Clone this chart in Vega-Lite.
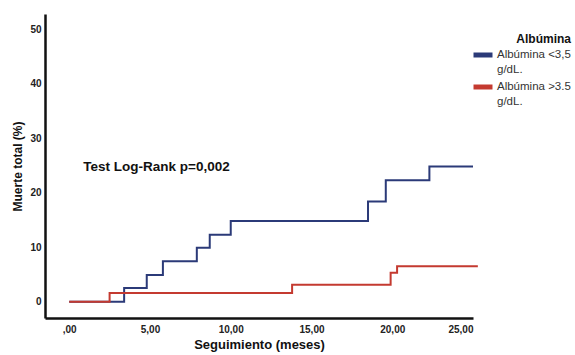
{
  "$schema": "https://vega.github.io/schema/vega-lite/v6.json",
  "width": 428,
  "height": 304,
  "autosize": "none",
  "padding": {"left": 45, "top": 14, "right": 102, "bottom": 37},
  "background": "white",
  "config": {
    "view": {"stroke": null},
    "font": "Liberation Sans"
  },
  "datasets": {
    "km": [
      {"t": 0, "pct": 0, "grupo": "Albúmina <3,5 g/dL."},
      {"t": 3.4, "pct": 2.5, "grupo": "Albúmina <3,5 g/dL."},
      {"t": 4.8, "pct": 4.9, "grupo": "Albúmina <3,5 g/dL."},
      {"t": 5.8, "pct": 7.4, "grupo": "Albúmina <3,5 g/dL."},
      {"t": 7.9, "pct": 9.9, "grupo": "Albúmina <3,5 g/dL."},
      {"t": 8.7, "pct": 12.3, "grupo": "Albúmina <3,5 g/dL."},
      {"t": 10.0, "pct": 14.8, "grupo": "Albúmina <3,5 g/dL."},
      {"t": 18.5, "pct": 18.4, "grupo": "Albúmina <3,5 g/dL."},
      {"t": 19.6, "pct": 22.3, "grupo": "Albúmina <3,5 g/dL."},
      {"t": 22.3, "pct": 24.8, "grupo": "Albúmina <3,5 g/dL."},
      {"t": 25.0, "pct": 24.8, "grupo": "Albúmina <3,5 g/dL."},
      {"t": 0, "pct": 0, "grupo": "Albúmina >3.5 g/dL."},
      {"t": 2.5, "pct": 1.6, "grupo": "Albúmina >3.5 g/dL."},
      {"t": 13.8, "pct": 3.1, "grupo": "Albúmina >3.5 g/dL."},
      {"t": 19.9, "pct": 5.3, "grupo": "Albúmina >3.5 g/dL."},
      {"t": 20.3, "pct": 6.5, "grupo": "Albúmina >3.5 g/dL."},
      {"t": 25.3, "pct": 6.5, "grupo": "Albúmina >3.5 g/dL."}
    ],
    "note": [
      {"t": 0.87, "pct": 24.7, "label": "Test Log-Rank p=0,002"}
    ]
  },
  "layer": [
    {
      "data": {"name": "km"},
      "mark": {"type": "line", "interpolate": "step-after", "strokeWidth": 2},
      "encoding": {
        "x": {
          "field": "t", "type": "quantitative",
          "scale": {"domain": [-1.5, 25], "nice": false, "zero": false},
          "axis": {
            "values": [0, 5, 10, 15, 20, 25],
            "labelExpr": "datum.value == 0 ? ',00' : replace(format(datum.value, '.2f'), '.', ',')",
            "title": "Seguimiento (meses)",
            "titleFontSize": 13,
            "titleFontWeight": "bold",
            "titleColor": "#111",
            "titlePadding": 4,
            "labelFontSize": 10,
            "labelFontWeight": "bold",
            "labelColor": "#222",
            "labelPadding": 6,
            "ticks": false,
            "grid": false,
            "domainColor": "#111",
            "domainWidth": 2.5
          }
        },
        "y": {
          "field": "pct", "type": "quantitative",
          "scale": {"domain": [-3, 52.8], "nice": false, "zero": false},
          "axis": {
            "values": [0, 10, 20, 30, 40, 50],
            "title": "Muerte total (%)",
            "titleFontSize": 12,
            "titleFontWeight": "bold",
            "titleColor": "#111",
            "titlePadding": 5,
            "labelFontSize": 10,
            "labelFontWeight": "bold",
            "labelColor": "#222",
            "labelPadding": 4,
            "ticks": false,
            "grid": false,
            "domainColor": "#111",
            "domainWidth": 2.5
          }
        },
        "color": {
          "field": "grupo", "type": "nominal",
          "scale": {"domain": ["Albúmina <3,5 g/dL.", "Albúmina >3.5 g/dL."], "range": ["#2b3a78", "#c43a30"]},
          "legend": {
            "title": "Albúmina",
            "orient": "none",
            "legendX": 426,
            "legendY": 20,
            "padding": 0,
            "titleAnchor": "end",
            "titleFontSize": 12,
            "titleFontWeight": "bold",
            "titleColor": "#111",
            "titlePadding": -3,
            "labelFontSize": 11.5,
            "labelColor": "#333",
            "labelOffset": 2,
            "labelBaseline": "middle",
            "labelExpr": "[slice(datum.label, 0, 13), slice(datum.label, 14)]",
            "symbolType": "M-1,0H1",
            "symbolSize": 361,
            "symbolStrokeWidth": 5,
            "rowPadding": 0,
            "encode": {
              "labels": {"update": {"lineHeight": {"value": 14.5}}}
            }
          }
        }
      }
    },
    {
      "data": {"name": "note"},
      "mark": {"type": "text", "align": "left", "baseline": "middle", "fontSize": 13.5, "fontWeight": "bold", "color": "#111"},
      "encoding": {
        "x": {"field": "t", "type": "quantitative"},
        "y": {"field": "pct", "type": "quantitative"},
        "text": {"field": "label"}
      }
    }
  ]
}
